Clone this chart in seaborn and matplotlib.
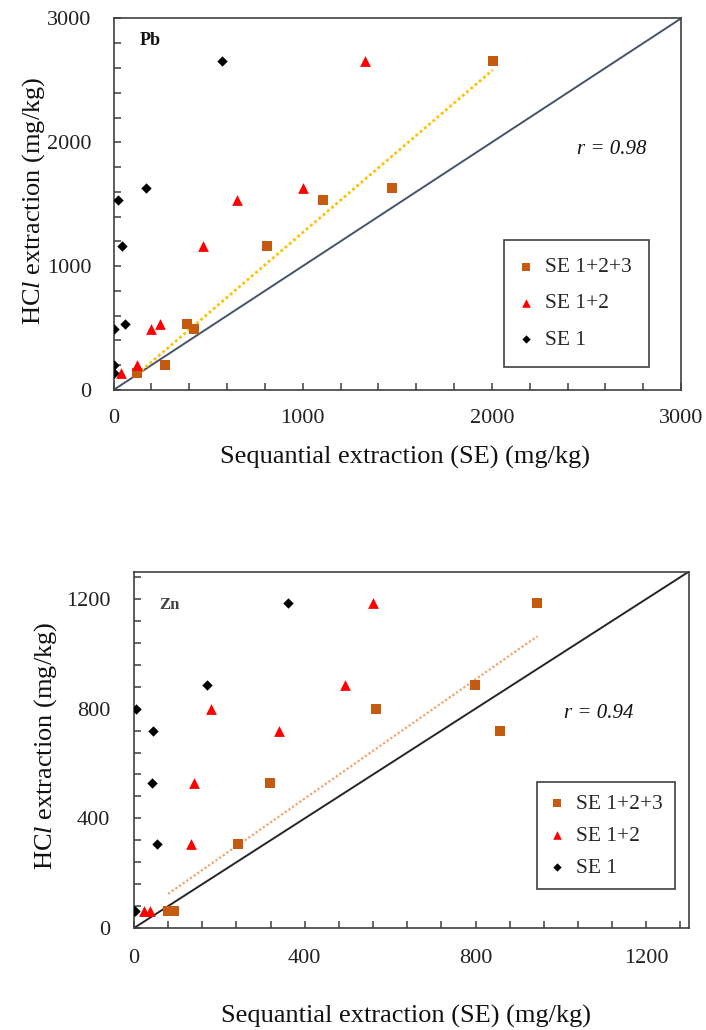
import numpy as np
import pandas as pd
import matplotlib
matplotlib.use("Agg")
import matplotlib.pyplot as plt
from matplotlib.ticker import MultipleLocator
import seaborn as sns

# ---------------- data ----------------
series_names = ["SE 1+2+3", "SE 1+2", "SE 1"]

# Pb panel
pb_hcl = [2660, 1630, 1530, 1160, 530, 495, 200, 135]
pb_se123 = [2005, 1470, 1110, 810, 390, 425, 270, 125]
pb_se12 = [1330, 1000, 655, 475, 245, 200, 125, 42]
pb_se1 = [576, 170, 23, 44, 63, 2, 2, 2]
pb_r_text = "r = 0.98"
pb_limits = [0, 3000]
pb_ticks = [0, 1000, 2000, 3000]

# Zn panel
zn_hcl = [1187, 885, 797, 717, 530, 306, 61, 61]
zn_se123 = [945, 798, 568, 857, 319, 244, 80, 94]
zn_se12 = [559, 494, 180, 339, 141, 134, 24, 37]
zn_se1 = [361, 170, 4, 45, 43, 53, 0, 3]
zn_r_text = "r = 0.94"
zn_limits = [0, 1300]
zn_ticks = [0, 400, 800, 1200]

# ---------------- style ----------------
sns.set_style("white")
plt.rcParams["font.family"] = ["Liberation Serif", "DejaVu Serif"]
plt.rcParams["mathtext.fontset"] = "custom"
plt.rcParams["mathtext.rm"] = "Liberation Serif"
plt.rcParams["mathtext.it"] = "Liberation Serif:italic"

palette = {"SE 1+2+3": "#C55A11", "SE 1+2": "#FF0000", "SE 1": "#000000"}
markers = {"SE 1+2+3": "s", "SE 1+2": "^", "SE 1": "D"}
sizes = {"SE 1+2+3": 60, "SE 1+2": 60, "SE 1": 28}


def make_df(hcl, s123, s12, s1):
    rows = []
    for name, xs in zip(series_names, [s123, s12, s1]):
        for x, y in zip(xs, hcl):
            rows.append({"SE": x, "HCl": y, "series": name})
    return pd.DataFrame(rows)


fig = plt.figure(figsize=(7.06, 10.30), dpi=100)
ax1 = fig.add_axes([0.1608, 0.6214, 0.8038, 0.3607])
ax2 = fig.add_axes([0.1898, 0.0990, 0.7861, 0.3461])

spine_col = "#3F3F3F"


def draw_panel(ax, df, lims, ticks, minor, diag_col, trend_col, trend_lw,
               label, label_xy, label_size, label_col, rtext, r_xy,
               leg_anchor, leg_kw, tick_pad_x, tick_pad_y, xlab_y, ylab_x, xlab_x):
    # 1:1 line
    ax.plot(lims, lims, color=diag_col, lw=1.4, zorder=1)
    # scatter
    for name in series_names:
        sub = df[df["series"] == name]
        sns.scatterplot(data=sub, x="SE", y="HCl", color=palette[name],
                        marker=markers[name], s=sizes[name], linewidth=0,
                        ax=ax, label=name, zorder=3)
    # trend line for SE 1+2+3
    sub = df[df["series"] == "SE 1+2+3"]
    k, b = np.polyfit(sub["SE"], sub["HCl"], 1)
    xs = np.array([sub["SE"].min(), sub["SE"].max()])
    ax.plot(xs, k * xs + b, color=trend_col, lw=trend_lw, ls=(0, (1, 1)), zorder=2)

    ax.set_xlim(lims)
    ax.set_ylim(lims)
    ax.xaxis.set_minor_locator(MultipleLocator(minor))
    ax.yaxis.set_minor_locator(MultipleLocator(minor))
    ax.set_xticks(ticks)
    ax.set_yticks(ticks)
    ax.tick_params(which="both", direction="in", length=5, width=1.1,
                   color=spine_col, labelsize=16, labelcolor="#222222")
    ax.tick_params(axis="x", which="major", pad=tick_pad_x)
    ax.tick_params(axis="y", which="major", pad=tick_pad_y)
    ax.tick_params(which="both", top=False, right=False, bottom=True, left=True)
    for sp in ax.spines.values():
        sp.set_visible(True)
        sp.set_color(spine_col)
        sp.set_linewidth(1.2)

    ax.set_xlabel("Sequantial extraction (SE) (mg/kg)", fontsize=19, color="#111111")
    ax.set_ylabel(r"HC$\mathit{l}$ extraction (mg/kg)", fontsize=19, color="#111111")
    ax.xaxis.set_label_coords(xlab_x, xlab_y)
    ax.yaxis.set_label_coords(ylab_x, 0.51)

    ax.text(label_xy[0], label_xy[1], label, fontsize=label_size, fontweight="bold",
            color=label_col, ha="center", va="center")
    ax.text(r_xy[0], r_xy[1], rtext, fontsize=15, fontstyle="italic",
            color="#111111", ha="center", va="center")

    handles, labels = ax.get_legend_handles_labels()
    leg = ax.legend(handles, labels, loc="upper left", bbox_to_anchor=leg_anchor,
                    bbox_transform=ax.transAxes, borderaxespad=0, fontsize=15.5,
                    frameon=True, fancybox=False, framealpha=1, edgecolor="#404040",
                    markerscale=0.8, **leg_kw)
    leg.get_frame().set_linewidth(1.2)


df_pb = make_df(pb_hcl, pb_se123, pb_se12, pb_se1)
df_zn = make_df(zn_hcl, zn_se123, zn_se12, zn_se1)

draw_panel(ax1, df_pb, pb_limits, pb_ticks, 200, "#44546A", "#FFC000", 2.0,
           "Pb", (193, 2823), 13, "#111111", pb_r_text, (2635, 1944),
           (0.688, 0.404),
           dict(handlelength=0.45, handletextpad=0.65, labelspacing=0.75, borderpad=0.8),
           14, 16, -0.15, -0.118, 0.513)
draw_panel(ax2, df_zn, zn_limits, zn_ticks, 80, "#262626", "#F5A26A", 1.6,
           "Zn", (82, 1178), 12, "#404040", zn_r_text, (1089, 784),
           (0.727, 0.410),
           dict(handlelength=0.75, handletextpad=0.5, labelspacing=0.55, borderpad=0.55),
           15, 17, -0.215, -0.135, 0.49)

fig.savefig("out.png", dpi=100, facecolor="white")
